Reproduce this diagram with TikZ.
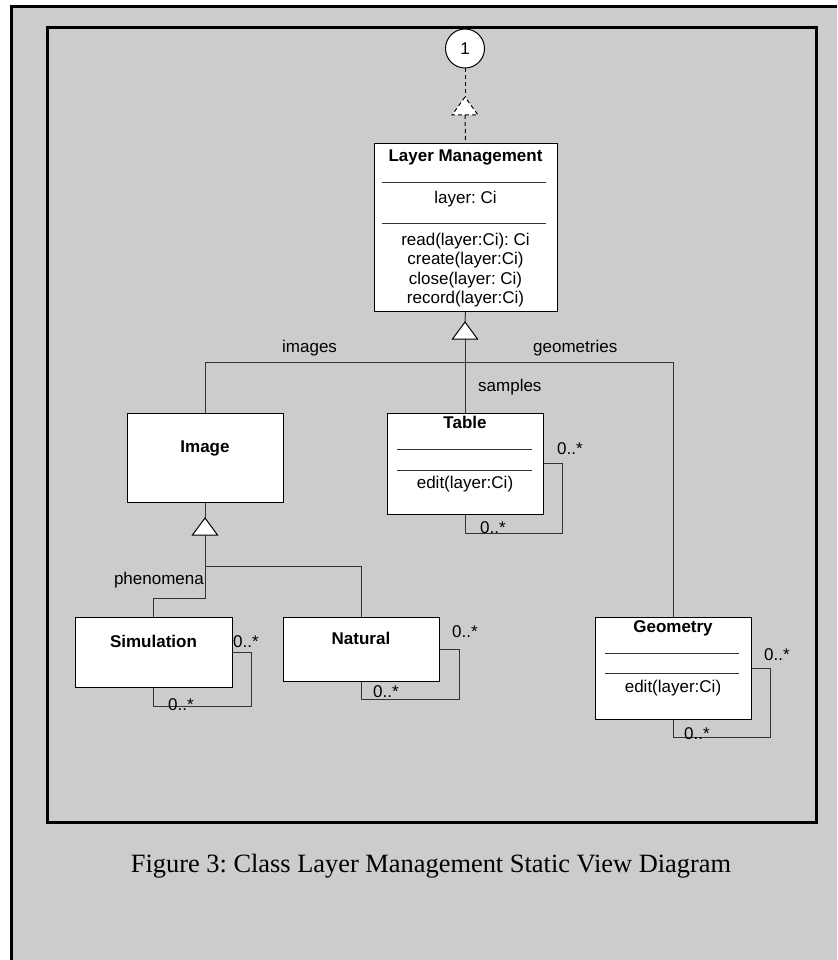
\documentclass[tikz,border=0pt]{standalone}
\usepackage{fontspec}
\setmainfont{Liberation Sans}
\newfontfamily\capfont{Liberation Serif}
\usetikzlibrary{calc}
\definecolor{bg}{HTML}{CCCCCC}
\definecolor{ln}{HTML}{333333}
\frenchspacing
\begin{document}
\frenchspacing
\begin{tikzpicture}[x=1pt,y=-1pt,
  every node/.style={inner sep=0pt, font=\fontsize{17}{19.5}\selectfont},
  cls/.style={draw=black, fill=white, line width=1pt},
  ttl/.style={anchor=base, font=\bfseries\fontsize{17}{19.5}\selectfont},
  txt/.style={anchor=base},
  lbl/.style={anchor=base west},
  conn/.style={draw=ln, line width=1pt},
  sep/.style={draw=ln, line width=0.9pt},
  gen/.style={draw=black, fill=white, line width=1pt},
  dsh/.style={draw=black, line width=1pt, dash pattern=on 4pt off 3pt},
  frame/.style={draw=black, line width=3pt}]
\useasboundingbox (0,0) rectangle (837,960);
\fill[white] (0,0) rectangle (837,960);
\fill[bg] (11,6.5) rectangle (837,960);
\draw[frame] (11,960) -- (11,6.5) -- (837,6.5);
\draw[frame] (47,28) rectangle (816,822);

% classes
\node[cls, minimum width=183pt, minimum height=167pt] (lm) at (465.5,227.5) {};
\node[cls, minimum width=156pt, minimum height=101pt] (table) at (465,463.5) {};
\node[cls, minimum width=156pt, minimum height=89pt] (image) at (205,457.5) {};
\node[cls, minimum width=156pt, minimum height=102pt] (geom) at (673,668) {};
\node[cls, minimum width=157pt, minimum height=70pt] (sim) at (153.5,652) {};
\node[cls, minimum width=156pt, minimum height=64pt] (nat) at (361,649) {};
\node[draw=black, fill=white, line width=1pt, circle, minimum size=39pt] (c1) at (465,48.5) {1};

% Layer Management contents
\node[ttl] (lmT) at (465.5,162) {Layer Management};
\draw[sep] (382,182) -- (546,182);
\node[txt] (lmA) at (465.5,204) {layer: Ci};
\draw[sep] (382,223) -- (546,223);
\node[txt] (lmO1) at (465.5,245) {read(layer:Ci): Ci};
\node[txt] (lmO2) at (465.5,264.5) {create(layer:Ci)};
\node[txt] (lmO3) at (465.5,284) {close(layer: Ci)};
\node[txt] (lmO4) at (465.5,303.5) {record(layer:Ci)};

% Table contents
\node[ttl] (tT) at (465,428) {Table};
\draw[sep] (397,449) -- (532,449);
\draw[sep] (397,470) -- (532,470);
\node[txt] (tO) at (465,488) {edit(layer:Ci)};

% Geometry contents
\node[ttl] (gT) at (673,632) {Geometry};
\draw[sep] (605,653) -- (739,653);
\draw[sep] (605,673) -- (739,673);
\node[txt] (gO) at (673,692.5) {edit(layer:Ci)};

\node[ttl] (iT) at (205,452) {Image};
\node[ttl] (sT) at (153.5,647) {Simulation};
\node[ttl] (nT) at (361,644) {Natural};

% realization to interface 1
\coordinate (r1) at (465,97);
\coordinate (r1b) at (465,115);
\draw[dsh] (c1.south) -- (r1);
\draw[dsh] (r1b) -- (lm.north);
\draw[dsh, fill=white] (r1) -- ++(-13,18) -- ++(26,0) -- cycle;

% generalization to Layer Management
\coordinate (g1) at (465,322);
\coordinate (g1b) at (465,339);
\coordinate (hub) at (465,362);
\draw[conn] (lm.south) -- (g1);
\draw[conn] (g1b) -- (table.north);
\draw[conn] (image.north) -- (image.north |- hub) -- (geom.north |- hub) -- (geom.north);
\draw[gen] (g1) -- ++(-12.5,17) -- ++(25,0) -- cycle;
\node[lbl] (lImg) at (282,352) {images};
\node[lbl] (lGeo) at (533,352) {geometries};
\node[lbl] (lSam) at (478,391) {samples};

% generalization to Image
\coordinate (g2) at (205,518);
\coordinate (g2b) at (205,535);
\coordinate (j1) at (205,566);
\coordinate (j2) at (205,598);
\draw[conn] (image.south) -- (g2);
\draw[conn] (g2b) -- (j2) -- (j2 -| sim.north) -- (sim.north);
\draw[conn] (j1) -- (j1 -| nat.north) -- (nat.north);
\draw[gen] (g2) -- ++(-12.5,17) -- ++(25,0) -- cycle;
\node[anchor=base east] (lPhe) at (204,584) {phenomena};

% self associations
\draw[conn] (table.east) -- ++(19,0) |- ($(table.south)+(0,19)$) -- (table.south);
\draw[conn] (geom.east) -- ++(19,0) |- ($(geom.south)+(0,18)$) -- (geom.south);
\draw[conn] (sim.east) -- ++(19,0) |- ($(sim.south)+(0,19)$) -- (sim.south);
\draw[conn] (nat.east) -- ++(20,0) |- ($(nat.south)+(0,18)$) -- (nat.south);
\node[lbl] (mT1) at (557,454) {0..*};
\node[lbl] (mT2) at (480,533) {0..*};
\node[lbl] (mG1) at (764,660) {0..*};
\node[lbl] (mG2) at (684,739) {0..*};
\node[lbl] (mS1) at (233,647) {0..*};
\node[lbl] (mS2) at (168,710) {0..*};
\node[lbl] (mN1) at (452,637) {0..*};
\node[lbl] (mN2) at (373,697) {0..*};

% caption
\node[anchor=base, font=\capfont\fontsize{26.4}{30}\selectfont] (cap) at (431,872) {Figure 3: Class Layer Management Static View Diagram};
\end{tikzpicture}
\end{document}
